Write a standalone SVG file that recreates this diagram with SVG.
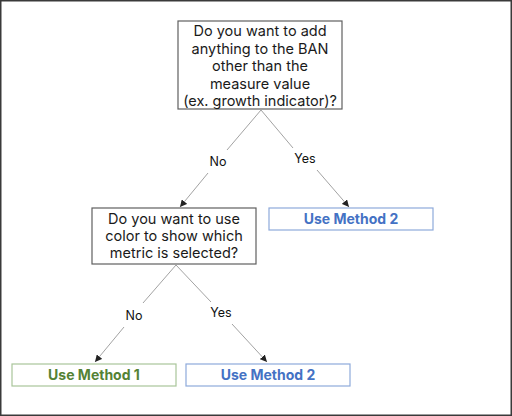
<svg xmlns="http://www.w3.org/2000/svg" width="512" height="416" viewBox="0 0 512 416">
<style>
.q{font-family:Inter,"Open Sans",sans-serif;font-size:14.5px;fill:#1a1a1a;text-anchor:middle}
.lbl{font-family:Inter,"Open Sans",sans-serif;font-size:12.5px;fill:#111;text-anchor:middle}
.m{font-family:Inter,"Open Sans",sans-serif;font-size:14px;font-weight:700;text-anchor:middle}
.box{fill:#fff;stroke:#5f5f5f;stroke-width:1.2}
.c{stroke:#8a8a8a;stroke-width:0.8;fill:none}
</style>
<defs>
<marker id="ah" viewBox="0 0 8 8" refX="8" refY="4" markerWidth="7" markerHeight="7" orient="auto" markerUnits="userSpaceOnUse">
<path d="M0,0 L8,4 L0,8 z" fill="#222"/>
</marker>
</defs>
<rect x="0.75" y="0.75" width="510.5" height="414.5" fill="#fff" stroke="#3a3a3a" stroke-width="1.5"/>
<g id="connectors">
<line class="c" x1="261" y1="110" x2="227" y2="150"/>
<line class="c" x1="208" y1="173" x2="180" y2="207" marker-end="url(#ah)"/>
<line class="c" x1="261" y1="110" x2="293" y2="148"/>
<line class="c" x1="317" y1="170" x2="349" y2="207" marker-end="url(#ah)"/>
<line class="c" x1="176" y1="265" x2="143" y2="303"/>
<line class="c" x1="124" y1="327" x2="95" y2="362" marker-end="url(#ah)"/>
<line class="c" x1="176" y1="265" x2="211" y2="302"/>
<line class="c" x1="232" y1="324" x2="267" y2="362" marker-end="url(#ah)"/>
<text class="lbl" x="218" y="166">No</text>
<text class="lbl" x="305" y="163">Yes</text>
<text class="lbl" x="134" y="320">No</text>
<text class="lbl" x="221" y="317">Yes</text>
</g>
<g id="q1">
<rect class="box" x="178" y="21" width="164" height="88"/>
<text class="q" x="260" y="36">Do you want to add</text>
<text class="q" x="260" y="53.5">anything to the BAN</text>
<text class="q" x="260" y="71">other than the</text>
<text class="q" x="260" y="88.5">measure value</text>
<text class="q" x="260" y="106">(ex. growth indicator)?</text>
</g>
<g id="q2">
<rect class="box" x="92" y="208" width="164" height="56"/>
<text class="q" x="174" y="224">Do you want to use</text>
<text class="q" x="174" y="241">color to show which</text>
<text class="q" x="174" y="258">metric is selected?</text>
</g>
<g id="m2a">
<rect x="269" y="208" width="164" height="22" fill="#fff" stroke="#8eaadb" stroke-width="1.2"/>
<text class="m" x="351" y="224" fill="#4472c4">Use Method 2</text>
</g>
<g id="m1">
<rect x="12" y="364" width="164" height="22" fill="#fff" stroke="#a9c59a" stroke-width="1.2"/>
<text class="m" x="94" y="380" fill="#548235">Use Method 1</text>
</g>
<g id="m2b">
<rect x="186" y="364" width="164" height="22" fill="#fff" stroke="#8eaadb" stroke-width="1.2"/>
<text class="m" x="268" y="380" fill="#4472c4">Use Method 2</text>
</g>
</svg>
